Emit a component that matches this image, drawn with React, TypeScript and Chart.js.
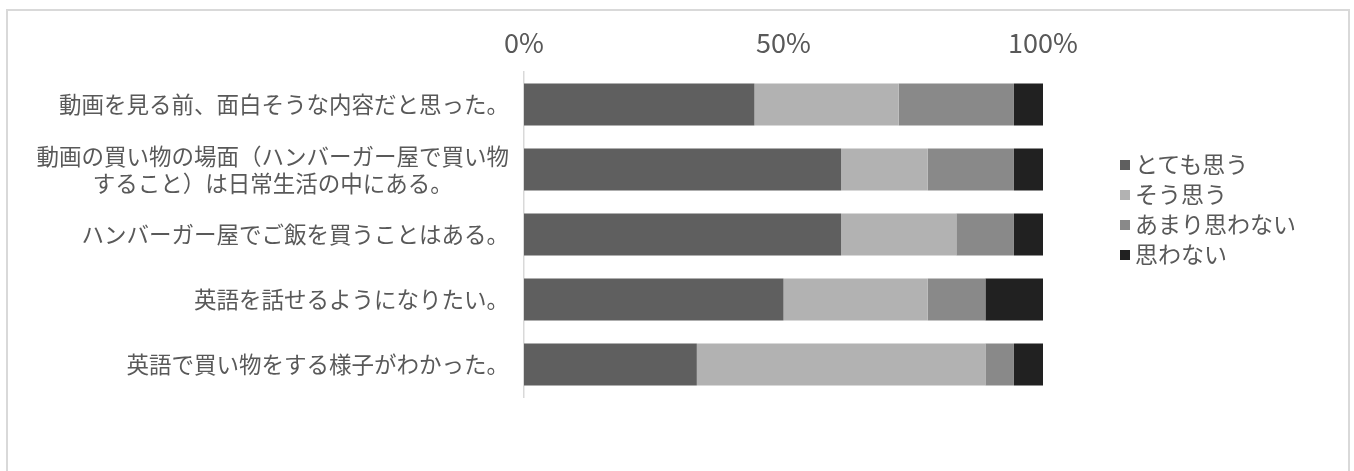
import React, { useEffect, useRef } from "react";
import { Chart, registerables } from "chart.js";

Chart.register(...registerables);

const categories: (string | string[])[] = [
  "動画を見る前、面白そうな内容だと思った。",
  ["動画の買い物の場面（ハンバーガー屋で買い物", "すること）は日常生活の中にある。"],
  "ハンバーガー屋でご飯を買うことはある。",
  "英語を話せるようになりたい。",
  "英語で買い物をする様子がわかった。",
];

const seriesNames = ["とても思う", "そう思う", "あまり思わない", "思わない"];
const seriesColors = ["#5f5f5f", "#b2b2b2", "#898989", "#212121"];

const totemo = [44.4, 61.1, 61.1, 50.0, 33.3];
const sou = [27.8, 16.7, 22.2, 27.8, 55.6];
const amari = [22.2, 16.6, 11.1, 11.1, 5.5];
const omowanai = [5.6, 5.6, 5.6, 11.1, 5.6];

const xTicks = [0, 50, 100];

const TEXT = "#595959";
const FONT = "'Noto Sans CJK JP', 'Noto Sans', sans-serif";

const catLabelPlugin = {
  id: "catLabels",
  afterDraw(chart: any) {
    const { ctx, chartArea } = chart;
    const y = chart.scales.y;
    ctx.save();
    ctx.fillStyle = TEXT;
    ctx.font = `22.5px ${FONT}`;
    ctx.textBaseline = "middle";
    ctx.textAlign = "center";
    const right = chartArea.left - 15;
    const lh = 27;
    categories.forEach((c, i) => {
      const lines = Array.isArray(c) ? c : [c];
      const maxW = Math.max(...lines.map((l) => ctx.measureText(l).width));
      const cx = right - maxW / 2;
      const cy = y.getPixelForValue(i);
      const start = cy - ((lines.length - 1) * lh) / 2;
      lines.forEach((l, k) => ctx.fillText(l, cx, start + k * lh));
    });
    ctx.restore();
  },
};

export default function App() {
  const ref = useRef<HTMLCanvasElement | null>(null);
  useEffect(() => {
    if (!ref.current) return;
    const data = [totemo, sou, amari, omowanai];
    const chart = new Chart(ref.current, {
      type: "bar",
      data: {
        labels: categories.map((c) => (Array.isArray(c) ? c.join("") : c)),
        datasets: seriesNames.map((n, i) => ({
          label: n,
          data: data[i],
          backgroundColor: seriesColors[i],
          borderWidth: 0,
          barPercentage: 0.645,
          categoryPercentage: 1,
        })),
      },
      options: {
        indexAxis: "y",
        animation: false,
        responsive: true,
        maintainAspectRatio: false,
        layout: { padding: { left: 0, top: 0, right: 305, bottom: 74 } },
        plugins: { legend: { display: false }, tooltip: { enabled: false } },
        scales: {
          x: {
            type: "linear",
            position: "top",
            stacked: true,
            min: 0,
            max: 100,
            afterFit: (s: any) => {
              s.height = 61;
            },
            afterBuildTicks: (s: any) => {
              s.ticks = xTicks.map((v) => ({ value: v }));
            },
            grid: { display: false },
            border: { display: false },
            ticks: {
              padding: 5,
              color: TEXT,
              font: { family: FONT, size: 27 },
              callback: (v: any) => `${v}%`,
            },
          },
          y: {
            type: "category",
            stacked: true,
            afterFit: (s: any) => {
              s.width = 516;
            },
            grid: { display: true, drawOnChartArea: false, drawTicks: false },
            border: { display: true, color: "#d9d9d9", width: 1.5 },
            ticks: { display: false },
          },
        },
      },
      plugins: [catLabelPlugin],
    });
    return () => chart.destroy();
  }, []);

  return (
    <div
      style={{
        position: "absolute",
        left: 6,
        top: 9,
        width: 1344,
        height: 462,
        boxSizing: "border-box",
        border: "2px solid #d9d9d9",
        borderBottom: "none",
        background: "#fff",
      }}
    >
      <div style={{ position: "absolute", left: 0, top: 0, width: 1340, height: 460 }}>
        <canvas ref={ref} />
      </div>
      <div
        style={{
          position: "absolute",
          left: 1112,
          top: 137,
          fontFamily: FONT,
          fontSize: 23,
          color: TEXT,
        }}
      >
        {seriesNames.map((n, i) => (
          <div key={n} style={{ display: "flex", alignItems: "center", height: 30, lineHeight: "30px" }}>
            <span
              style={{
                display: "inline-block",
                width: 10,
                height: 10,
                marginTop: 4,
                marginRight: 5,
                background: seriesColors[i],
              }}
            />
            <span>{n}</span>
          </div>
        ))}
      </div>
    </div>
  );
}
